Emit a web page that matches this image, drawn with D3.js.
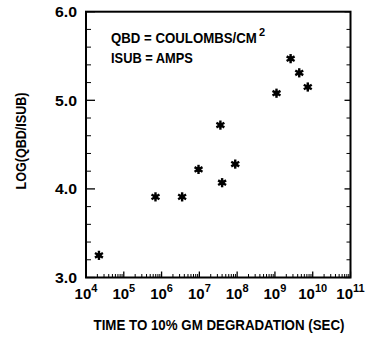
<!DOCTYPE html>
<html><head><meta charset="utf-8">
<script src="https://cdn.jsdelivr.net/npm/d3@7"></script>
<style>
body{margin:0;background:#fff;}
svg{display:block;}
text{font-family:"Liberation Sans Narrow","Liberation Sans",Arial,sans-serif;fill:#000;}
</style></head>
<body>
<div id="chart"></div>
<script>
// Data
const timeSec = [2.2e4, 6.9e5, 3.5e6, 9.5e6, 3.6e7, 4.0e7, 8.9e7, 1.1e9, 2.6e9, 4.4e9, 7.4e9];
const logRatio = [3.25, 3.91, 3.91, 4.22, 4.72, 4.07, 4.28, 5.08, 5.47, 5.31, 5.15];
const xTickExps = [4, 5, 6, 7, 8, 9, 10, 11];
const yTickLabels = ["3.0", "4.0", "5.0", "6.0"];
const yTickValues = [3, 4, 5, 6];
const yTitle = "LOG(QBD/ISUB)";
const xTitle = "TIME TO 10% GM DEGRADATION (SEC)";
const noteLines = ["QBD = COULOMBS/CM", "ISUB = AMPS"];
const noteSup = "2";

const W = 367, H = 342;
const L = 86, R = 350.5, T = 11.7, B = 277.5;

const svg = d3.select("#chart").append("svg").attr("width", W).attr("height", H);

const x = d3.scaleLog().domain([1e4, 1e11]).range([L, R]);
const y = d3.scaleLinear().domain([3, 6]).range([B, T]);

// minor / major ticks bottom (inward)
const xMinor = [];
for (let e = 4; e < 11; e++) for (let m = 2; m <= 9; m++) xMinor.push(m * Math.pow(10, e));
const g = svg.append("g");
g.selectAll("line.xmin").data(xMinor).join("line")
  .attr("x1", d => x(d)).attr("x2", d => x(d))
  .attr("y1", B).attr("y2", B - 3.5)
  .attr("stroke", "#000").attr("stroke-width", 1);
g.selectAll("line.xmaj").data(xTickExps).join("line")
  .attr("x1", d => x(Math.pow(10, d))).attr("x2", d => x(Math.pow(10, d)))
  .attr("y1", B).attr("y2", B - 6)
  .attr("stroke", "#000").attr("stroke-width", 1.3);

// y ticks left & right (inward), minor every 0.2
const yMinor = d3.range(3, 6.001, 0.2).map(v => +v.toFixed(1)).filter(v => !yTickValues.includes(v));
g.selectAll("line.ylmin").data(yMinor).join("line")
  .attr("x1", L).attr("x2", L + 5).attr("y1", d => y(d)).attr("y2", d => y(d))
  .attr("stroke", "#000").attr("stroke-width", 1);
g.selectAll("line.ylmaj").data(yTickValues).join("line")
  .attr("x1", L).attr("x2", L + 9).attr("y1", d => y(d)).attr("y2", d => y(d))
  .attr("stroke", "#000").attr("stroke-width", 1.3);
g.selectAll("line.yrmin").data(yMinor).join("line")
  .attr("x1", R).attr("x2", R - 4).attr("y1", d => y(d)).attr("y2", d => y(d))
  .attr("stroke", "#000").attr("stroke-width", 1);
g.selectAll("line.yrmaj").data(yTickValues).join("line")
  .attr("x1", R).attr("x2", R - 6).attr("y1", d => y(d)).attr("y2", d => y(d))
  .attr("stroke", "#000").attr("stroke-width", 1.3);

// frame
svg.append("rect").attr("x", L).attr("y", T).attr("width", R - L).attr("height", B - T)
  .attr("fill", "none").attr("stroke", "#000").attr("stroke-width", 2);

// y tick labels
svg.selectAll("text.ylab").data(yTickValues).join("text")
  .attr("x", L - 9).attr("y", d => y(d) + 5.5)
  .attr("text-anchor", "end").attr("font-size", 15).attr("font-weight", "bold")
  .attr("textLength", 22).attr("lengthAdjust", "spacingAndGlyphs")
  .text((d, i) => yTickLabels[i]);

// x tick labels 10^n
const xl = svg.selectAll("text.xlab").data(xTickExps).join("text")
  .attr("x", d => x(Math.pow(10, d))).attr("y", 298.5)
  .attr("text-anchor", "middle").attr("font-size", 15).attr("font-weight", "bold");
xl.append("tspan").text("10");
xl.append("tspan").attr("font-size", 11).attr("dy", -7).text(d => d);

// axis titles
svg.append("text").attr("x", 219).attr("y", 330)
  .attr("text-anchor", "middle").attr("font-size", 14).attr("font-weight", "bold")
  .attr("textLength", 251).attr("lengthAdjust", "spacingAndGlyphs")
  .text(xTitle);
svg.append("text").attr("transform", "translate(26,141) rotate(-90)")
  .attr("text-anchor", "middle").attr("font-size", 15).attr("font-weight", "bold")
  .attr("textLength", 97).attr("lengthAdjust", "spacingAndGlyphs")
  .text(yTitle);

// note (horizontally condensed via scale so the box matches the glyphs)
function fitText(txt, x0, y0, size, width) {
  const t = svg.append("text").attr("font-size", size).attr("font-weight", "bold").text(txt);
  const w = t.node().getComputedTextLength();
  t.attr("transform", `translate(${x0},${y0}) scale(${width / w},1)`);
  return t;
}
fitText(noteLines[0], 111, 42.5, 15, 146);
svg.append("text").attr("x", 259).attr("y", 35.5).attr("font-size", 11).attr("font-weight", "bold")
  .text(noteSup);
fitText(noteLines[1], 111, 62.5, 15, 82);

// markers: six-pointed asterisk
const pts = timeSec.map((t, i) => ({t, v: logRatio[i]}));
const mk = svg.selectAll("g.mk").data(pts).join("g")
  .attr("transform", d => `translate(${x(d.t)},${y(d.v)})`);
[90, 30, 150].forEach(a => {
  const r = 4.6, rad = a * Math.PI / 180;
  mk.append("line")
    .attr("x1", -r * Math.cos(rad)).attr("y1", -r * Math.sin(rad))
    .attr("x2", r * Math.cos(rad)).attr("y2", r * Math.sin(rad))
    .attr("stroke", "#000").attr("stroke-width", 2.4);
});
mk.append("circle").attr("r", 2.6).attr("fill", "#000");
</script>
</body></html>
